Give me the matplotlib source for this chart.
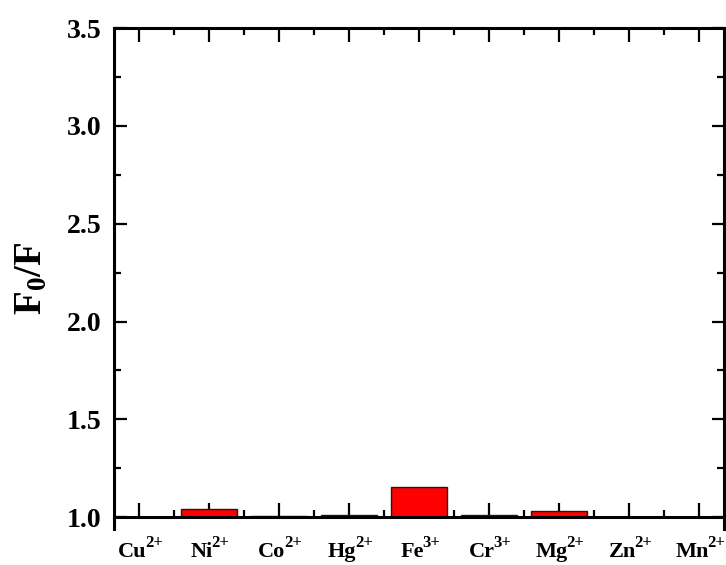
import matplotlib
matplotlib.use('Agg')
import matplotlib.pyplot as plt
import matplotlib.transforms as mtransforms
from matplotlib.ticker import MultipleLocator

plt.rcParams['font.family'] = ['Liberation Serif', 'DejaVu Serif']
plt.rcParams['font.weight'] = 'bold'
plt.rcParams['mathtext.fontset'] = 'custom'
plt.rcParams['mathtext.rm'] = 'Liberation Serif:bold'
plt.rcParams['mathtext.it'] = 'Liberation Serif:bold'
plt.rcParams['mathtext.bf'] = 'Liberation Serif:bold'

# ions and F0/F ratios
ions = ['Cu', 'Ni', 'Co', 'Hg', 'Fe', 'Cr', 'Mg', 'Zn', 'Mn']
charges = ['2+', '2+', '2+', '2+', '3+', '3+', '2+', '2+', '2+']
ratios = [1.0, 1.040, 1.007, 1.012, 1.153, 1.010, 1.032, 1.0, 1.0]

base = 1.0

fig = plt.figure(figsize=(7.26, 5.65), dpi=100)
ax = fig.add_axes([114 / 726, 1 - 529 / 565, 610 / 726, 501 / 565])

x = list(range(len(ions)))
heights = [r - base for r in ratios]
ax.bar(x, heights, bottom=base, width=0.8, color='#ff0000',
       edgecolor='#1a1a1a', linewidth=1.0, zorder=2)

ax.set_xlim(-0.357, 8.357)
ax.set_ylim(0.94, 3.5)
ax.spines['bottom'].set_position(('data', base))

# category labels: symbol on a common baseline plus a raised charge
ax.set_xticks(x)
ax.set_xticklabels([])
trans = mtransforms.blended_transform_factory(ax.transData, fig.transFigure)
trans = mtransforms.offset_copy(trans, fig=fig, x=-7, y=0, units='dots')
for xi, ion, ch in zip(x, ions, charges):
    t = ax.text(xi, 1 - 557 / 565, ion, transform=trans, ha='center',
                va='baseline', fontsize=16, clip_on=False)
    ax.annotate(ch, xy=(1, 0), xycoords=t, xytext=(-1, 11),
                textcoords='offset points', ha='left', va='baseline',
                fontsize=12, annotation_clip=False)

ax.xaxis.set_minor_locator(MultipleLocator(0.5))
ax.yaxis.set_minor_locator(MultipleLocator(0.25))
ax.set_yticks([1.0, 1.5, 2.0, 2.5, 3.0, 3.5])
ax.set_yticklabels(['1.0', '1.5', '2.0', '2.5', '3.0', '3.5'], fontsize=20,
                   fontweight='bold')

for s in ax.spines.values():
    s.set_linewidth(2.2)

ax.tick_params(axis='x', which='major', direction='in', length=10, width=1.6,
               top=True)
ax.tick_params(axis='x', which='minor', direction='in', length=5, width=1.6,
               top=True)
ax.tick_params(axis='y', which='major', direction='in', length=9, width=1.6,
               pad=9, right=True)
ax.tick_params(axis='y', which='minor', direction='in', length=5, width=1.6,
               right=True)

ax.set_ylabel(r'$\mathrm{F_0/F}$', fontsize=28, labelpad=12)

plt.savefig('out.png', dpi=100)
